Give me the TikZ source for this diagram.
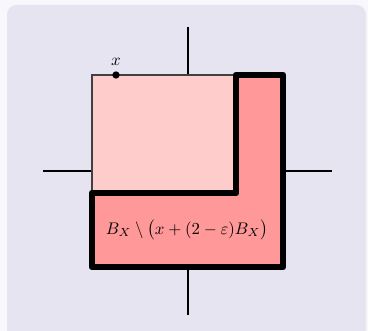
\documentclass[tikz,border=0pt]{standalone}
\usepackage{amsmath,amssymb}
\usetikzlibrary{positioning}
\definecolor{pagebg}{HTML}{F8F7FB}
\definecolor{panelbg}{HTML}{E5E4F0}
\definecolor{lightpink}{HTML}{FFCCCC}
\definecolor{darkpink}{HTML}{FF9999}
\tikzset{
  axisline/.style={line width=2.2pt},
  lshape/.style={fill=darkpink, draw=black, line width=5pt, line join=round},
  dot/.style={circle, fill=black, inner sep=0pt, minimum size=5.5pt},
  lab/.style={scale=1.26},
}
\begin{document}
\begin{tikzpicture}[x=0.75pt,y=-0.75pt]
\useasboundingbox (0,0) rectangle (368,331);
\fill[pagebg] (0,0) rectangle (368,331);
\fill[panelbg, rounded corners=7pt] (7,5) rectangle (366,345);
% axes
\draw[axisline] (188,27) -- (188,315);
\draw[axisline] (43,171) -- (332,171);
% light square
\fill[lightpink] (92,75) rectangle (236,193);
\draw[black!75, line width=0.8pt] (92,193) -- (92,75) -- (236,75);
% L shape
\draw[lshape] (236,75) -- (283,75) -- (283,267) -- (92,267) -- (92,193) -- (236,193) -- cycle;
% point x
\node[dot] (px) at (116,75) {};
\node[lab, inner sep=0pt] (lx) at (116,62) {$x$};
\node[lab] (lbl) at (187,230) {$B_X \setminus \bigl(x+(2-\varepsilon)B_X\bigr)$};
\end{tikzpicture}
\end{document}
